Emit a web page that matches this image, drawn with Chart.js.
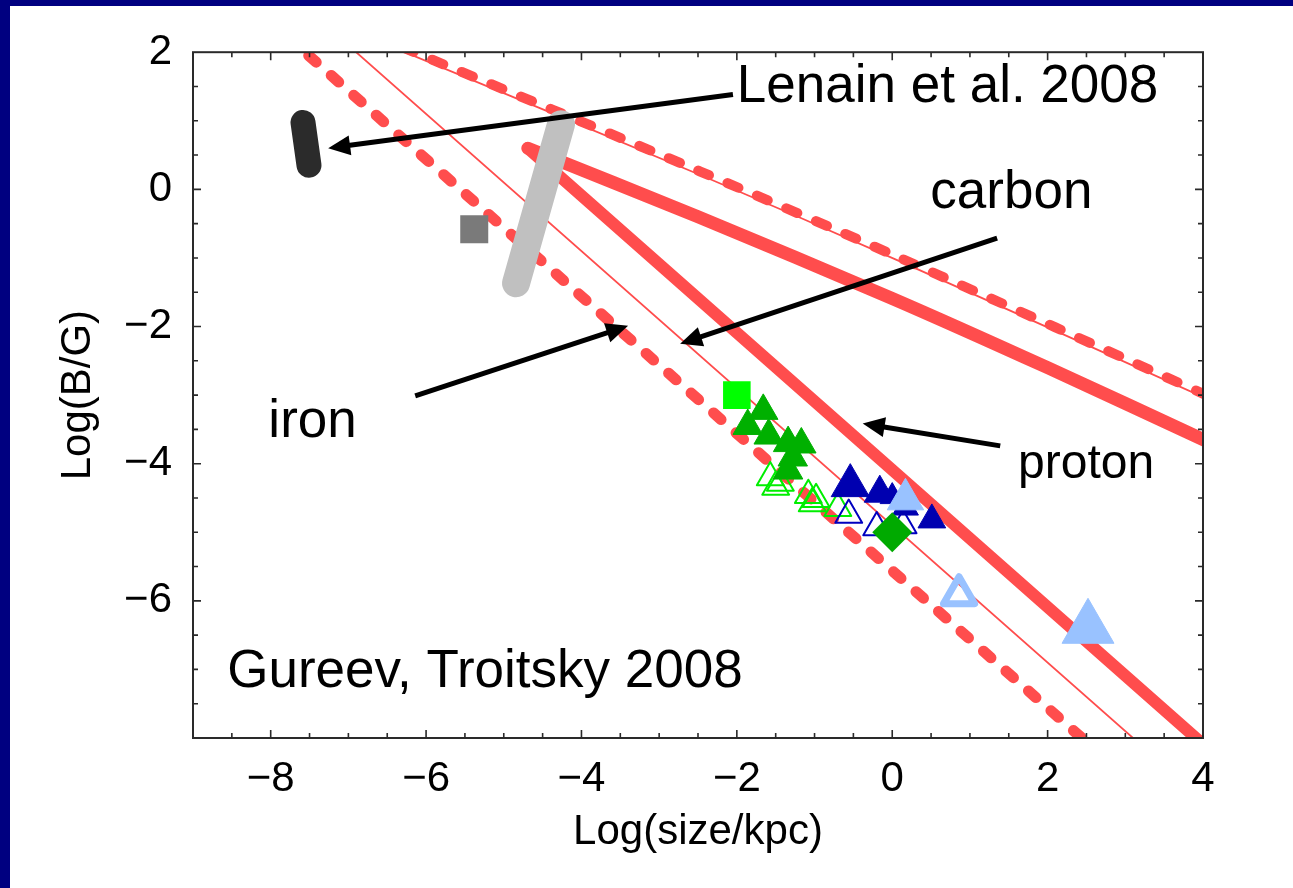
<!DOCTYPE html>
<html>
<head>
<meta charset="utf-8">
<script src="https://cdn.jsdelivr.net/npm/chart.js@4.4.0/dist/chart.umd.min.js"></script>
<style>
  html, body { margin: 0; padding: 0; width: 1293px; height: 888px; overflow: hidden; background: #000080; }
  #panel { position: absolute; left: 10px; top: 6px; width: 1283px; height: 882px; background: #ffffff; }
  canvas { display: block; }
</style>
</head>
<body>
<div id="panel"><canvas id="hillas" width="1283" height="882"></canvas></div>
<script>
// ---- axis ticks ----
const xTicks = [-8, -6, -4, -2, 0, 2, 4];
const yTicks = [-6, -4, -2, 0, 2];

// ---- maximal-energy model lines, log B [G] vs log size [kpc] ----
const protonSteepX = [-4.69, 4.2];
const protonSteepY = [0.6, -8.29];
const carbonSteepX = [-7.2, 3.3];
const carbonSteepY = [2.3, -8.2];
const ironSteepX = [-7.8, 2.6];
const ironSteepY = [2.24, -8.16];

const protonShallowX = [-4.69, -2.5, 0.0, 2.0, 4.1];
const protonShallowY = [0.6, -0.40, -1.59, -2.60, -3.70];
const carbonShallowX = [-6.4, -2.47, 0.1, 4.1];
const carbonShallowY = [2.06, 0.21, -1.05, -3.08];
const ironShallowX = [-6.3, -2.47, 0.1, 4.1];
const ironShallowY = [2.07, 0.26, -1.0, -3.03];

// ---- source regions ----
const lenainBandX = [-7.584, -7.507];
const lenainBandY = [0.976, 0.352];
const graySquareX = [-5.38];
const graySquareY = [-0.58];
const grayBandX = [-4.263, -4.842];
const grayBandY = [0.949, -1.368];

// ---- observed objects ----
const limeSquareX = [-2.0];
const limeSquareY = [-3.0];
const greenFilledX = [-1.66, -1.86, -1.59, -1.34, -1.17, -1.28, -1.34];
const greenFilledY = [-3.23, -3.45, -3.59, -3.70, -3.72, -3.91, -4.10];
const greenOpenX = [-1.57, -1.50, -1.44, -1.08, -1.03, -0.98, -0.70];
const greenOpenY = [-4.20, -4.34, -4.28, -4.46, -4.58, -4.52, -4.65];
const blueFilledX = [-0.54, -0.16, 0.0, 0.17, 0.51];
const blueFilledY = [-4.32, -4.43, -4.48, -4.64, -4.82];
const blueFilledSize = [22, 18, 14, 15, 16];
const blueOpenX = [-0.56, -0.20, 0.14];
const blueOpenY = [-4.75, -4.93, -4.90];
const greenDiamondX = [0.0];
const greenDiamondY = [-5.0];
const skyFilledX = [0.17, 2.52];
const skyFilledY = [-4.52, -6.40];
const skyFilledSize = [21, 30];
const skyOpenX = [0.86];
const skyOpenY = [-5.91];

// ---- annotations ----
const noteText = ['Lenain et al. 2008', 'carbon', 'iron', 'proton', 'Gureev, Troitsky 2008'];
const noteSize = [53, 53, 53, 48, 53];
const noteX = [-2.0, 0.49, -8.03, 1.62, -8.56];
const noteY = [1.28, -0.27, -3.605, -4.216, -7.25];
const arrowFromX = [-2.05, 1.35, -6.14, 1.39];
const arrowFromY = [1.384, -0.71, -3.01, -3.74];
const arrowToX = [-7.26, -2.73, -3.40, -0.38];
const arrowToY = [0.60, -2.25, -1.99, -3.415];

const pts = (xs, ys) => xs.map((v, i) => ({ x: v, y: ys[i] }));
const FONT = "'Liberation Sans', Arial, Helvetica, sans-serif";
const RED = '#ff4d4d';
const minus = v => (v < 0 ? '\u2212' + Math.abs(v) : String(v));

function lineSet(label, xs, ys, width, dash, color, order, tension) {
  return {
    type: 'scatter', label, data: pts(xs, ys), showLine: true,
    borderColor: color, backgroundColor: color, borderWidth: width,
    borderDash: dash, borderCapStyle: 'round', borderJoinStyle: 'round',
    tension: tension || 0, pointRadius: 0, pointHoverRadius: 0, clip: 0, order
  };
}
function markerSet(label, xs, ys, style, radius, fill, stroke, bw, order) {
  return {
    type: 'scatter', label, data: pts(xs, ys), pointStyle: style,
    pointRadius: radius, pointHoverRadius: radius,
    backgroundColor: fill, borderColor: stroke, pointBorderWidth: bw, borderWidth: bw,
    clip: 0, order
  };
}

const datasets = [
  lineSet('iron (steep)', ironSteepX, ironSteepY, 11, [10, 20], RED, 20),
  lineSet('carbon (steep)', carbonSteepX, carbonSteepY, 1.8, [], RED, 20),
  lineSet('proton (steep)', protonSteepX, protonSteepY, 12, [], RED, 20),
  lineSet('iron (shallow)', ironShallowX, ironShallowY, 10, [12, 20], RED, 20, 0.3),
  lineSet('carbon (shallow)', carbonShallowX, carbonShallowY, 1.8, [], RED, 20, 0.3),
  lineSet('proton (shallow)', protonShallowX, protonShallowY, 13, [], RED, 20, 0.3),
  lineSet('Lenain et al.', lenainBandX, lenainBandY, 25, [], '#2b2b2b', 10),
  lineSet('extended band', grayBandX, grayBandY, 28, [], '#c0c0c0', 10),
  markerSet('compact source', graySquareX, graySquareY, 'rect', 19.8, '#7a7a7a', '#7a7a7a', 0, 10),
  markerSet('lime square', limeSquareX, limeSquareY, 'rect', 19.5, '#00ff00', '#00ff00', 0, 5),
  markerSet('green open', greenOpenX, greenOpenY, 'triangle', 15.5, 'rgba(0,0,0,0)', '#00ee00', 2, 5),
  markerSet('green filled', greenFilledX, greenFilledY, 'triangle', 17, '#00b000', '#00b000', 1, 4),
  markerSet('blue open', blueOpenX, blueOpenY, 'triangle', 15.5, 'rgba(0,0,0,0)', '#0000c0', 2, 4),
  markerSet('blue filled', blueFilledX, blueFilledY, 'triangle', blueFilledSize, '#0000b0', '#0000b0', 1, 3),
  markerSet('sky filled', skyFilledX, skyFilledY, 'triangle', skyFilledSize, '#99c2ff', '#99c2ff', 1, 2),
  markerSet('sky open', skyOpenX, skyOpenY, 'triangle', 18, 'rgba(0,0,0,0)', '#99c2ff', 7, 2),
  markerSet('green diamond', greenDiamondX, greenDiamondY, 'rectRot', 20, '#00aa00', '#00aa00', 0, 1)
];

const frameAndNotes = {
  id: 'frameAndNotes',
  beforeDatasetsDraw(chart) { chart.ctx.lineJoin = 'round'; },
  afterDatasetsDraw(chart) {
    const { ctx, chartArea: a, scales: { x, y } } = chart;
    ctx.save();
    // box frame with inward ticks on all four sides
    ctx.strokeStyle = '#2a2a2a';
    ctx.lineWidth = 2;
    ctx.lineJoin = 'miter';
    ctx.strokeRect(a.left, a.top, a.right - a.left, a.bottom - a.top);
    ctx.lineWidth = 1.6;
    ctx.beginPath();
    for (let v = x.min + 0.5; v < x.max; v += 0.5) {
      const p = x.getPixelForValue(v);
      const len = xTicks.includes(v) ? 8 : 5;
      ctx.moveTo(p, a.bottom); ctx.lineTo(p, a.bottom - len);
      ctx.moveTo(p, a.top); ctx.lineTo(p, a.top + len);
    }
    for (let v = y.min + 0.5; v < y.max; v += 0.5) {
      const p = y.getPixelForValue(v);
      const len = yTicks.includes(v) ? 8 : 5;
      ctx.moveTo(a.left, p); ctx.lineTo(a.left + len, p);
      ctx.moveTo(a.right, p); ctx.lineTo(a.right - len, p);
    }
    ctx.stroke();

    // arrows
    ctx.strokeStyle = '#000';
    ctx.fillStyle = '#000';
    ctx.lineWidth = 5;
    ctx.lineCap = 'butt';
    arrowFromX.forEach((fx, i) => {
      const x1 = x.getPixelForValue(fx), y1 = y.getPixelForValue(arrowFromY[i]);
      const x2 = x.getPixelForValue(arrowToX[i]), y2 = y.getPixelForValue(arrowToY[i]);
      const ang = Math.atan2(y2 - y1, x2 - x1);
      const head = 22, half = 10;
      const bx = x2 - head * Math.cos(ang), by = y2 - head * Math.sin(ang);
      ctx.beginPath();
      ctx.moveTo(x1, y1); ctx.lineTo(bx + 2 * Math.cos(ang), by + 2 * Math.sin(ang));
      ctx.stroke();
      ctx.beginPath();
      ctx.moveTo(x2, y2);
      ctx.lineTo(bx - half * Math.sin(ang), by + half * Math.cos(ang));
      ctx.lineTo(bx + half * Math.sin(ang), by - half * Math.cos(ang));
      ctx.closePath();
      ctx.fill();
    });

    // labels
    ctx.textAlign = 'left';
    ctx.textBaseline = 'alphabetic';
    noteText.forEach((t, i) => {
      ctx.font = noteSize[i] + 'px ' + FONT;
      ctx.fillText(t, x.getPixelForValue(noteX[i]), y.getPixelForValue(noteY[i]));
    });
    ctx.restore();
  }
};

new Chart(document.getElementById('hillas'), {
  type: 'scatter',
  data: { datasets },
  options: {
    responsive: false,
    devicePixelRatio: 1,
    animation: false,
    events: [],
    layout: { padding: { left: 0, top: 44.7, right: 90, bottom: 0 } },
    plugins: { legend: { display: false }, tooltip: { enabled: false } },
    scales: {
      x: {
        type: 'linear', position: 'bottom', min: -9, max: 4,
        grid: { display: false, drawTicks: false },
        border: { display: false },
        afterBuildTicks: s => { s.ticks = xTicks.map(v => ({ value: v })); },
        afterFit: s => { s.height = 150; },
        ticks: {
          autoSkip: false, maxRotation: 0, padding: 16, color: '#000',
          font: { family: FONT, size: 42 }, callback: v => minus(v)
        },
        title: {
          display: true, text: 'Log(size/kpc)', color: '#000',
          font: { family: FONT, size: 42, lineHeight: 1.2 }, padding: { top: 0, bottom: 30 }
        }
      },
      y: {
        type: 'linear', position: 'left', min: -8, max: 2,
        grid: { display: false, drawTicks: false },
        border: { display: false },
        afterBuildTicks: s => { s.ticks = yTicks.map(v => ({ value: v })); },
        afterFit: s => { s.width = 183; },
        ticks: {
          autoSkip: false, padding: 21, color: '#000',
          font: { family: FONT, size: 42 }, callback: v => minus(v)
        },
        title: {
          display: true, text: 'Log(B/G)', color: '#000',
          font: { family: FONT, size: 42, lineHeight: 1.2 }, padding: { top: 43, bottom: 0 }
        }
      }
    }
  },
  plugins: [frameAndNotes]
});
</script>
</body>
</html>
